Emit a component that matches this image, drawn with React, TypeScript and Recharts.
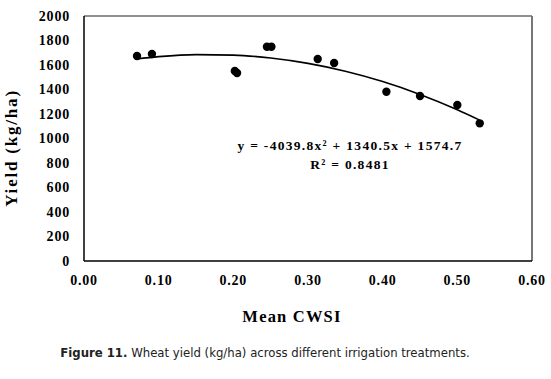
import { ComposedChart, Line, ReferenceLine, Scatter, XAxis, YAxis, ZAxis } from "recharts";

// observed treatments
const cwsi = [0.071, 0.091, 0.202, 0.205, 0.245, 0.251, 0.313, 0.335, 0.405, 0.45, 0.5, 0.53];
const yieldKg = [1673, 1690, 1551, 1535, 1749, 1749, 1649, 1616, 1382, 1347, 1273, 1124];

// polynomial trendline
const trendX = [0.07, 0.1, 0.15, 0.2, 0.25, 0.3, 0.35, 0.4, 0.45, 0.5, 0.53];
const trendY = [1649, 1668, 1685, 1681, 1657, 1613, 1549, 1465, 1360, 1235, 1150];

const xTicks = [0, 0.1, 0.2, 0.3, 0.4, 0.5, 0.6];
const yTicks = [0, 200, 400, 600, 800, 1000, 1200, 1400, 1600, 1800, 2000];

const points = cwsi.map((x, i) => ({ x, y: yieldKg[i] }));
const trend = trendX.map((x, i) => ({ x, y: trendY[i] }));

const serif = "Liberation Serif, Times New Roman, serif";

const tickStyle = {
  fill: "#000",
  fontSize: 14,
  fontWeight: "bold",
  style: { fontFamily: serif },
  letterSpacing: 0.8,
};

export default function App() {
  return (
    <div style={{ position: "absolute", left: 0, top: 0, width: 551, height: 379, background: "#fff" }}>
      <ComposedChart width={551} height={330} margin={{ top: 16, right: 19, bottom: 0, left: 0 }}>
        <XAxis
          dataKey="x"
          type="number"
          domain={[0, 0.6]}
          ticks={xTicks}
          tickFormatter={(v) => v.toFixed(2)}
          height={69}
          tickLine={false}
          tickMargin={8}
          axisLine={{ stroke: "#000", strokeWidth: 1.5 }}
          tick={tickStyle}
        />
        <YAxis
          type="number"
          domain={[0, 2000]}
          ticks={yTicks}
          width={84}
          tickLine={false}
          tickMargin={8}
          axisLine={{ stroke: "#000", strokeWidth: 1.5 }}
          tick={tickStyle}
        />
        <ZAxis range={[55, 55]} />
        <ReferenceLine y={2000} stroke="#222" strokeWidth={1.2} />
        <ReferenceLine x={0.6} stroke="#777" strokeWidth={2} />
        <Line
          data={trend}
          dataKey="y"
          type="monotone"
          dot={false}
          stroke="#000"
          strokeWidth={1.6}
          isAnimationActive={false}
        />
        <Scatter data={points} dataKey="y" fill="#000" isAnimationActive={false} />
      </ComposedChart>
      <svg
        width={551}
        height={379}
        style={{ position: "absolute", left: 0, top: 0, pointerEvents: "none" }}
      >
        <text
          transform="translate(17,148) rotate(-90)"
          textAnchor="middle"
          style={{ fontFamily: serif }}
          fontWeight="bold"
          fontSize={17}
          letterSpacing={1.8}
        >
          Yield (kg/ha)
        </text>
        <text x={292} y={322} textAnchor="middle" style={{ fontFamily: serif }} fontWeight="bold" fontSize={16.5} letterSpacing={1.2}>
          Mean CWSI
        </text>
        <text x={350} y={150} textAnchor="middle" style={{ fontFamily: serif }} fontWeight="bold" fontSize={13.5} letterSpacing={1.3}>
          y = -4039.8x² + 1340.5x + 1574.7
        </text>
        <text x={350} y={169} textAnchor="middle" style={{ fontFamily: serif }} fontWeight="bold" fontSize={13.5} letterSpacing={1.3}>
          R² = 0.8481
        </text>
        <text
          x={265}
          y={357}
          textAnchor="middle"
          style={{ fontFamily: "DejaVu Sans Condensed, DejaVu Sans, sans-serif" }}
          fontSize={13}
          fill="#222"
        >
          <tspan fontWeight="bold">Figure 11.</tspan> Wheat yield (kg/ha) across different irrigation treatments.
        </text>
      </svg>
    </div>
  );
}
